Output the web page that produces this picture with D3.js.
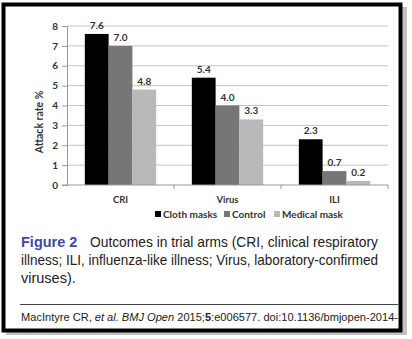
<!DOCTYPE html>
<html><head><meta charset="utf-8">
<script src="https://cdn.jsdelivr.net/npm/d3@7/dist/d3.min.js"></script>
<style>html,body{margin:0;padding:0;background:#fff;}svg{display:block;}</style>
</head><body>
<script>
const categories = ["CRI", "Virus", "ILI"];
const seriesNames = ["Cloth masks", "Control", "Medical mask"];
const clothMasks = [7.6, 5.4, 2.3];
const control = [7.0, 4.0, 0.7];
const medicalMask = [4.8, 3.3, 0.2];
const yTicks = [0, 1, 2, 3, 4, 5, 6, 7, 8];
const colors = ["#000000", "#767676", "#b9b9b9"];
const seriesValues = [clothMasks, control, medicalMask];

const W = 412, H = 339;
const svg = d3.select("body").append("svg").attr("width", W).attr("height", H);

// shadow + frame
svg.append("rect").attr("x", 6).attr("y", 7).attr("width", 401).attr("height", 328)
  .attr("fill", "#9a9a9a").attr("opacity", 0.6);
svg.append("rect").attr("x", 3.5).attr("y", 4.5).attr("width", 397).attr("height", 326)
  .attr("fill", "#fff").attr("stroke", "#000").attr("stroke-width", 4);

const x0 = d3.scaleBand().domain(categories).range([67, 388]).paddingInner(0).paddingOuter(0);
const x1 = d3.scaleBand().domain(seriesNames).range([0, x0.bandwidth()]).paddingInner(0).paddingOuter(0.75);
const y = d3.scaleLinear().domain([0, 8]).range([185, 26]);

const chartFont = "Lato, 'Open Sans', sans-serif";

// gridlines
svg.append("g").selectAll("line").data(yTicks.filter(d => d > 0)).join("line")
  .attr("x1", 67).attr("x2", 388).attr("y1", d => y(d)).attr("y2", d => y(d))
  .attr("stroke", "#c4c4c4").attr("stroke-width", 1);

// bars
const groups = svg.append("g").selectAll("g").data(categories).join("g")
  .attr("transform", d => `translate(${x0(d)},0)`);
groups.selectAll("rect").data((c, i) => seriesNames.map((s, j) => ({s, v: seriesValues[j][i], j})))
  .join("rect")
  .attr("x", d => x1(d.s)).attr("width", x1.bandwidth())
  .attr("y", d => y(d.v)).attr("height", d => y(0) - y(d.v))
  .attr("fill", d => colors[d.j]);
groups.selectAll("text").data((c, i) => seriesNames.map((s, j) => ({s, v: seriesValues[j][i], j})))
  .join("text")
  .attr("x", d => x1(d.s) + x1.bandwidth() / 2).attr("y", d => y(d.v) - 5)
  .attr("text-anchor", "middle").attr("font-family", chartFont).attr("font-size", 10)
  .attr("font-weight", 700).attr("fill", "#333")
  .text(d => d.v.toFixed(1));

// y axis
const yAxis = svg.append("g").attr("transform", "translate(67,0)")
  .call(d3.axisLeft(y).tickValues(yTicks).tickSize(5).tickPadding(4).tickFormat(d3.format("d")));
yAxis.select(".domain").attr("stroke", "#999");
yAxis.selectAll(".tick line").attr("stroke", "#999");
yAxis.selectAll("text").attr("font-family", chartFont).attr("font-size", 10).attr("font-weight", 700).attr("fill", "#333");

// x axis
const xAxis = svg.append("g").attr("transform", "translate(0,185)");
xAxis.append("line").attr("x1", 62).attr("x2", 388).attr("stroke", "#999");
xAxis.selectAll("line.t").data(categories).join("line").attr("class", "t")
  .attr("x1", d => x0(d) + x0.bandwidth()).attr("x2", d => x0(d) + x0.bandwidth())
  .attr("y1", 0).attr("y2", 4).attr("stroke", "#999");
xAxis.selectAll("text").data(categories).join("text")
  .attr("x", d => x0(d) + x0.bandwidth() / 2).attr("y", 18)
  .attr("text-anchor", "middle").attr("font-family", chartFont).attr("font-size", 9.5)
  .attr("font-weight", 700).attr("fill", "#333").text(d => d);

// y title
svg.append("text").attr("transform", "translate(43,122) rotate(-90)")
  .attr("text-anchor", "middle").attr("font-family", chartFont).attr("font-size", 10.5)
  .attr("font-weight", 700).attr("fill", "#333").text("Attack rate %");

// legend
const legendX = [155, 224, 274];
const lg = svg.append("g").selectAll("g").data(seriesNames).join("g")
  .attr("transform", (d, i) => `translate(${legendX[i]},214)`);
lg.append("rect").attr("x", 0).attr("y", -3).attr("width", 6).attr("height", 6)
  .attr("fill", (d, i) => colors[i]);
lg.append("text").attr("x", 8).attr("y", 3.5).attr("font-family", chartFont).attr("font-size", 10)
  .attr("font-weight", 700).attr("fill", "#333").text(d => d);

// caption
const capFont = "'Liberation Sans', Arial, Helvetica, sans-serif";
const cap = svg.append("g").attr("font-family", capFont).attr("font-size", 14.5).attr("fill", "#222");
const l1 = cap.append("text").attr("x", 21).attr("y", 247);
l1.append("tspan").attr("fill", "#3f4aa0").attr("font-weight", 700).text("Figure 2");
l1.append("tspan").attr("x", 90).text("Outcomes in trial arms (CRI, clinical respiratory")
  .attr("textLength", 288).attr("lengthAdjust", "spacingAndGlyphs");
cap.append("text").attr("x", 21).attr("y", 265)
  .attr("textLength", 357).attr("lengthAdjust", "spacingAndGlyphs")
  .text("illness; ILI, influenza-like illness; Virus, laboratory-confirmed");
cap.append("text").attr("x", 21).attr("y", 283).text("viruses).");

// separator
svg.append("line").attr("x1", 20).attr("x2", 398).attr("y1", 304.5).attr("y2", 304.5)
  .attr("stroke", "#444").attr("stroke-width", 1);

// footer
const ft = svg.append("text").attr("x", 21).attr("y", 320.5).attr("font-family", capFont)
  .attr("font-size", 11).attr("fill", "#222").attr("textLength", 377).attr("lengthAdjust", "spacingAndGlyphs");
ft.append("tspan").text("MacIntyre CR, ");
ft.append("tspan").attr("font-style", "italic").text("et al. BMJ Open");
ft.append("tspan").text(" 2015;");
ft.append("tspan").attr("font-weight", 700).text("5");
ft.append("tspan").text(":e006577. doi:10.1136/bmjopen-2014-");
</script>
</body></html>
